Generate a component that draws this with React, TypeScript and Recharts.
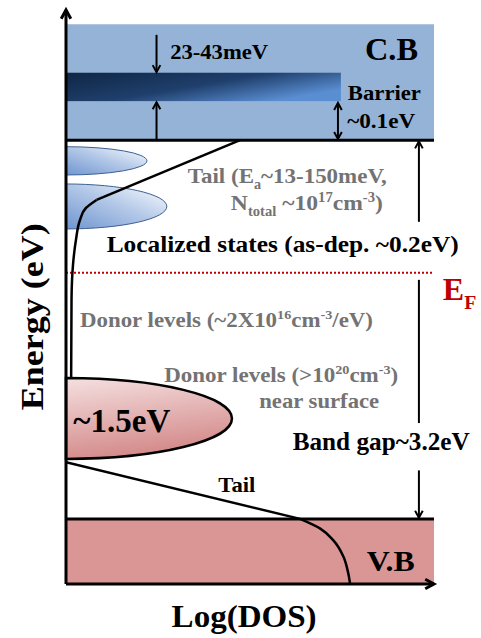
import React from "react";
import {
  ComposedChart,
  XAxis,
  YAxis,
  Line,
  ReferenceArea,
  ReferenceLine,
  ReferenceDot
} from "recharts";

// axes: Log(DOS) in arbitrary units, energy in eV (VB top = 0)
const dosDomain = [0, 100];
const energyDomain = [-0.55, 4.3];

const vbTop = 0;
const cbBottom = 3.2;
const cbTop = 4.18;
const fermiLevel = 2.08;
const barrierBand = [3.53, 3.77];
const barrierReach = 74.7;

// localized tail pockets below the CB (half-ellipses on the energy axis)
const tailPockets = [
  { dos: 22, eHi: 3.145, eLo: 2.906 },
  { dos: 27.4, eHi: 2.83, eLo: 2.45 }
];
const deepDonor = { dos: 45.1, eHi: 1.19, eLo: 0.507 };

// band tails
const cbTailStraight = [
  { dos: 47.3, e: 3.2 },
  { dos: 8.3, e: 2.695 }
];
const cbTailCurve = [
  { dos: 8.3, e: 2.695 },
  { dos: 5.4, e: 2.627 },
  { dos: 3.8, e: 2.526 },
  { dos: 2.7, e: 2.357 },
  { dos: 1.9, e: 2.146 },
  { dos: 1.5, e: 1.85 },
  { dos: 1.4, e: 1.19 }
];
const vbTailStraight = [
  { dos: 0, e: 0.48 },
  { dos: 63.6, e: 0 }
];
const vbEdgeCurve = [
  { dos: 63.6, e: 0 },
  { dos: 69.0, e: -0.08 },
  { dos: 72.6, e: -0.18 },
  { dos: 75.4, e: -0.32 },
  { dos: 76.7, e: -0.46 },
  { dos: 77.2, e: -0.55 }
];

// arrows [dos, e]
const arrows = [
  { from: [24.6, 4.09], to: [24.6, 3.775], heads: "end" },
  { from: [24.6, 3.2], to: [24.6, 3.52], heads: "end" },
  { from: [73.9, 3.21], to: [73.9, 3.515], heads: "both" },
  { from: [95.9, 2.51], to: [95.9, 3.19], heads: "end" },
  { from: [95.9, 2.02], to: [95.9, 0.81], heads: "none" },
  { from: [95.9, 0.41], to: [95.9, 0.01], heads: "end" }
];

type Part = { t: string; shift?: "sub" | "sup" };
const labels: { id: string; at: number[]; parts: Part[] }[] = [
  { id: "shallow", at: [28.3, 3.883], parts: [{ t: "23-43meV" }] },
  { id: "cb", at: [81.25, 3.877], parts: [{ t: "C.B" }] },
  { id: "barrier", at: [76.6, 3.54], parts: [{ t: "Barrier" }] },
  { id: "barrierH", at: [76.4, 3.303], parts: [{ t: "~0.1eV" }] },
  { id: "tail1", at: [33.1, 2.836], parts: [{ t: "Tail (E" }, { t: "a", shift: "sub" }, { t: "~13-150meV," }] },
  { id: "tail2", at: [44.8, 2.61], parts: [{ t: "N" }, { t: "total", shift: "sub" }, { t: " ~10" }, { t: "17", shift: "sup" }, { t: "cm" }, { t: "-3", shift: "sup" }, { t: ")" }] },
  { id: "loc", at: [11.06, 2.258], parts: [{ t: "Localized  states (as-dep. ~0.2eV)" }] },
  { id: "ef", at: [102.4, 1.85], parts: [{ t: "E" }, { t: "F", shift: "sub" }] },
  { id: "donor1", at: [3.8, 1.624], parts: [{ t: "Donor levels (~2X10" }, { t: "16", shift: "sup" }, { t: "cm" }, { t: "-3", shift: "sup" }, { t: "/eV)" }] },
  { id: "donor2", at: [26.7, 1.159], parts: [{ t: "Donor levels (>10" }, { t: "20", shift: "sup" }, { t: "cm" }, { t: "-3", shift: "sup" }, { t: ")" }] },
  { id: "surface", at: [52.5, 0.934], parts: [{ t: "near surface" }] },
  { id: "deep", at: [2.0, 0.737], parts: [{ t: "~1.5eV" }] },
  { id: "gap", at: [61.6, 0.582], parts: [{ t: "Band gap~3.2eV" }] },
  { id: "vtail", at: [41.4, 0.23], parts: [{ t: "Tail" }] },
  { id: "vb", at: [81.7, -0.438], parts: [{ t: "V.B" }] },
  { id: "xtitle", at: [28.7, -0.911], parts: [{ t: "Log(DOS)" }] },
  { id: "ytitle", at: [-6.3, 1.708], parts: [{ t: "Energy (eV)" }] }
];

const GRAY = "#737373";
const labelStyle: Record<string, { size: number; color?: string; len?: number; rotate?: boolean }> = {
  shallow: { size: 22, len: 98 },
  cb: { size: 32, len: 53 },
  barrier: { size: 22, len: 73 },
  barrierH: { size: 22, len: 68 },
  tail1: { size: 22, color: GRAY, len: 199 },
  tail2: { size: 22, color: GRAY, len: 152 },
  loc: { size: 24, len: 352 },
  ef: { size: 32, color: "#c00000" },
  donor1: { size: 21, color: GRAY, len: 293 },
  donor2: { size: 21, color: GRAY, len: 234 },
  surface: { size: 21, color: GRAY, len: 120 },
  deep: { size: 33, len: 97 },
  gap: { size: 25, len: 177 },
  vtail: { size: 21, len: 37 },
  vb: { size: 30, len: 48 },
  xtitle: { size: 31, len: 145 },
  ytitle: { size: 32, len: 187, rotate: true }
};

const FONT = "'Liberation Serif', 'Times New Roman', serif";

const renderParts = (parts: Part[], size: number) => {
  let cur = 0;
  return parts.map((p, i) => {
    const target = p.shift === "sub" ? size * 0.28 : p.shift === "sup" ? -size * 0.38 : 0;
    const dy = target - cur;
    cur = target;
    return (
      <tspan key={i} dy={dy} fontSize={p.shift ? size * 0.62 : size}>
        {p.t}
      </tspan>
    );
  });
};

const labelShape = (id: string, parts: Part[]) => (p: any) => {
  const s = labelStyle[id];
  return (
    <text
      x={p.cx}
      y={p.cy}
      fontFamily={FONT}
      fontWeight="bold"
      fontSize={s.size}
      fill={s.color || "#000"}
      textAnchor={s.rotate ? "middle" : "start"}
      transform={s.rotate ? `rotate(-90 ${p.cx} ${p.cy})` : undefined}
      textLength={s.len}
      lengthAdjust={s.len ? "spacingAndGlyphs" : undefined}
    >
      {renderParts(parts, s.size)}
    </text>
  );
};

const arrowShape = (heads: string, width: number, size: number) => (p: any) => {
  const { x1, y1, x2, y2 } = p;
  const a = Math.atan2(y2 - y1, x2 - x1);
  const chevron = (x: number, y: number, ang: number) => {
    const k = 0.5;
    const pts = [
      [x - size * Math.cos(ang - k), y - size * Math.sin(ang - k)],
      [x, y],
      [x - size * Math.cos(ang + k), y - size * Math.sin(ang + k)]
    ]
      .map((q) => q.join(","))
      .join(" ");
    return <polyline points={pts} fill="none" stroke="#000" strokeWidth={width} />;
  };
  return (
    <g>
      <line x1={x1} y1={y1} x2={x2} y2={y2} stroke="#000" strokeWidth={width} />
      {heads !== "none" && chevron(x2, y2, a)}
      {heads === "both" && chevron(x1, y1, a + Math.PI)}
    </g>
  );
};

const halfEllipse = (fill: string, stroke: string, sw: number) => (p: any) => {
  const { x, y, width, height } = p;
  return (
    <path
      d={`M ${x} ${y} A ${width} ${height / 2} 0 0 1 ${x} ${y + height} Z`}
      fill={fill}
      stroke={stroke}
      strokeWidth={sw}
    />
  );
};

export default function App() {
  return (
    <div style={{ position: "absolute", left: 0, top: 0, width: 481, height: 638, background: "#fff" }}>
      <ComposedChart width={481} height={638} margin={{ top: 10, right: 47, bottom: 54, left: 66 }}>
        <defs>
          <linearGradient id="barrierFill" x1="0" y1="0" x2="1" y2="0.6">
            <stop offset="0%" stopColor="#0f2645" />
            <stop offset="55%" stopColor="#1f3f6c" />
            <stop offset="100%" stopColor="#5a8ed2" />
          </linearGradient>
          <linearGradient id="pocketFill" x1="0" y1="1" x2="1" y2="0">
            <stop offset="0%" stopColor="#6f95d0" />
            <stop offset="55%" stopColor="#b7cbe9" />
            <stop offset="100%" stopColor="#ffffff" />
          </linearGradient>
          <linearGradient id="donorFill" x1="0" y1="0" x2="0.25" y2="1">
            <stop offset="0%" stopColor="#f5e0e0" />
            <stop offset="100%" stopColor="#d48a8a" />
          </linearGradient>
        </defs>
        <XAxis type="number" dataKey="dos" domain={dosDomain} allowDataOverflow hide />
        <YAxis type="number" domain={energyDomain} allowDataOverflow hide />

        <ReferenceArea x1={0} x2={100} y1={cbBottom} y2={cbTop} fill="#95b3d7" fillOpacity={1} ifOverflow="visible" />
        <ReferenceArea x1={0} x2={100} y1={energyDomain[0]} y2={vbTop} fill="#d99694" fillOpacity={1} ifOverflow="visible" />
        <ReferenceArea
          x1={0}
          x2={barrierReach}
          y1={barrierBand[0]}
          y2={barrierBand[1]}
          ifOverflow="visible"
          shape={(p: any) => <rect x={p.x} y={p.y} width={p.width} height={p.height} fill="url(#barrierFill)" />}
        />
        {tailPockets.map((t, i) => (
          <ReferenceArea
            key={"pk" + i}
            x1={0}
            x2={t.dos}
            y1={t.eLo}
            y2={t.eHi}
            ifOverflow="visible"
            shape={halfEllipse("url(#pocketFill)", "#3d5f92", 1)}
          />
        ))}
        <ReferenceArea
          x1={0}
          x2={deepDonor.dos}
          y1={deepDonor.eLo}
          y2={deepDonor.eHi}
          ifOverflow="visible"
          shape={halfEllipse("url(#donorFill)", "#000", 2.5)}
        />

        <ReferenceLine y={cbBottom} stroke="#000" strokeWidth={3} ifOverflow="visible" />
        <ReferenceLine y={vbTop} stroke="#000" strokeWidth={3} ifOverflow="visible" />
        <ReferenceLine y={fermiLevel} stroke="#c00000" strokeWidth={2} strokeDasharray="2 2" ifOverflow="visible" />

        <Line data={cbTailStraight} dataKey="e" type="linear" stroke="#000" strokeWidth={2.5} dot={false} activeDot={false} isAnimationActive={false} />
        <Line data={cbTailCurve} dataKey="e" type="monotoneY" stroke="#000" strokeWidth={2.5} dot={false} activeDot={false} isAnimationActive={false} />
        <Line data={vbTailStraight} dataKey="e" type="linear" stroke="#000" strokeWidth={2.5} dot={false} activeDot={false} isAnimationActive={false} />
        <Line data={vbEdgeCurve} dataKey="e" type="monotoneY" stroke="#000" strokeWidth={2.5} dot={false} activeDot={false} isAnimationActive={false} />

        {arrows.map((a, i) => (
          <ReferenceLine
            key={"ar" + i}
            segment={[{ x: a.from[0], y: a.from[1] }, { x: a.to[0], y: a.to[1] }]}
            ifOverflow="visible"
            shape={arrowShape(a.heads, 2, 8)}
          />
        ))}
        <ReferenceLine
          segment={[{ x: 0, y: energyDomain[0] }, { x: 0, y: energyDomain[1] }]}
          ifOverflow="visible"
          shape={arrowShape("end", 3, 10)}
        />
        <ReferenceLine
          segment={[{ x: 0, y: energyDomain[0] }, { x: 100, y: energyDomain[0] }]}
          ifOverflow="visible"
          shape={arrowShape("end", 3, 10)}
        />

        {labels.map((l) => (
          <ReferenceDot key={l.id} x={l.at[0]} y={l.at[1]} r={0} ifOverflow="visible" shape={labelShape(l.id, l.parts)} />
        ))}
      </ComposedChart>
    </div>
  );
}
